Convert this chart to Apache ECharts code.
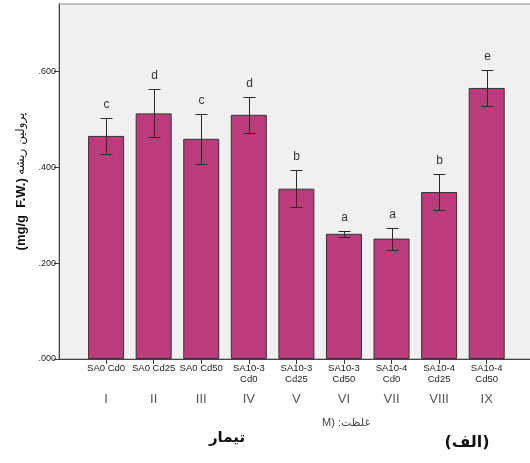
<!DOCTYPE html>
<html>
<head>
<meta charset="utf-8">
<script src="https://cdn.jsdelivr.net/npm/echarts@6/dist/echarts.min.js"></script>
<style>
  html, body { margin: 0; padding: 0; background: #ffffff; }
  #chart { width: 530px; height: 463px; }
</style>
</head>
<body>
<div id="chart"></div>
<script>
// Treatments (SA level + Cd level), group numerals and Duncan letters
const categories = ['SA0 Cd0', 'SA0 Cd25', 'SA0 Cd50', 'SA10-3\nCd0', 'SA10-3\nCd25',
                    'SA10-3\nCd50', 'SA10-4\nCd0', 'SA10-4\nCd25', 'SA10-4\nCd50'];
const romans = ['I', 'II', 'III', 'IV', 'V', 'VI', 'VII', 'VIII', 'IX'];
const letters = ['c', 'd', 'c', 'd', 'b', 'a', 'a', 'b', 'e'];
// Root proline (mg/g F.W.): means and error half-widths
const means = [0.465, 0.512, 0.459, 0.509, 0.355, 0.261, 0.251, 0.348, 0.565];
const errors = [0.038, 0.050, 0.052, 0.038, 0.038, 0.006, 0.023, 0.038, 0.038];
const yTicks = [0, 0.2, 0.4, 0.6];

const idx = categories.map((_, i) => i);
const barData = means.map((m, i) => [i, m]);
const errData = means.map((m, i) => [i, m - errors[i], m + errors[i]]);

const FONT = '"Liberation Sans", Arial, "DejaVu Sans", sans-serif';
const X_MIN = -0.99, X_MAX = 9.52;

const chart = echarts.init(document.getElementById('chart'), null, { renderer: 'canvas' });

chart.setOption({
  animation: false,
  backgroundColor: '#ffffff',
  grid: {
    left: 59, top: 4, width: 500, bottom: 104,
    outerBoundsMode: 'none', containLabel: false,
    show: true, backgroundColor: '#f0f0f0', borderColor: '#8c8c8c', borderWidth: 1
  },
  xAxis: [
    {
      type: 'value', min: X_MIN, max: X_MAX, position: 'bottom',
      splitLine: { show: false },
      axisLine: { show: true, onZero: false, lineStyle: { color: '#444', width: 1 } },
      axisTick: { show: true, customValues: idx, length: 5, lineStyle: { color: '#333' } },
      axisLabel: {
        customValues: idx, margin: 4, fontFamily: FONT, fontSize: 9.5, color: '#222',
        lineHeight: 11, formatter: v => categories[Math.round(v)]
      }
    },
    {
      type: 'value', min: X_MIN, max: X_MAX, position: 'bottom', offset: 30,
      splitLine: { show: false },
      axisLine: { show: false },
      axisTick: { show: false },
      axisLabel: {
        customValues: idx, margin: 4, fontFamily: FONT, fontSize: 13, color: '#555',
        formatter: v => romans[Math.round(v)]
      }
    }
  ],
  yAxis: {
    type: 'value', min: 0, max: 0.74, position: 'left',
    splitLine: { show: false },
    axisLine: { show: true, onZero: false, lineStyle: { color: '#444', width: 1 } },
    axisTick: { show: true, customValues: yTicks, length: 5, lineStyle: { color: '#333' } },
    axisLabel: {
      customValues: yTicks, margin: 3, fontFamily: FONT, fontSize: 9, color: '#222',
      formatter: v => '.' + v.toFixed(3).split('.')[1]
    },
    name: '{b|(mg/g  F.W.)} {n|پرولین ریشه}',
    nameLocation: 'middle', nameRotate: 90, nameGap: 30,
    nameTextStyle: {
      rich: {
        b: { fontFamily: FONT, fontSize: 13, fontWeight: 'bold', color: '#111' },
        n: { fontFamily: '"DejaVu Sans", sans-serif', fontSize: 12, color: '#111' }
      }
    }
  },
  series: [
    {
      type: 'bar', xAxisIndex: 0, data: barData, barWidth: 36,
      itemStyle: { color: '#bb3c7c', borderColor: '#333', borderWidth: 1 },
      z: 2
    },
    {
      type: 'custom', xAxisIndex: 0, data: errData, z: 3,
      encode: { x: 0, y: [1, 2] },
      renderItem: function (params, api) {
        const x = api.value(0);
        const lo = api.coord([x, api.value(1)]);
        const hi = api.coord([x, api.value(2)]);
        const cx = Math.round(lo[0]) + 0.5;
        const ly = Math.round(lo[1]) + 0.5;
        const hy = Math.round(hi[1]) + 0.5;
        const cap = 6;
        const style = { stroke: '#2a2a2a', lineWidth: 1 };
        return {
          type: 'group',
          children: [
            { type: 'line', shape: { x1: cx, y1: ly, x2: cx, y2: hy }, style: style },
            { type: 'line', shape: { x1: cx - cap, y1: hy, x2: cx + cap, y2: hy }, style: style },
            { type: 'line', shape: { x1: cx - cap, y1: ly, x2: cx + cap, y2: ly }, style: style },
            {
              type: 'text',
              style: {
                text: letters[params.dataIndex], x: cx, y: hy - 14,
                align: 'center', verticalAlign: 'middle',
                font: '12px ' + FONT, fill: '#333'
              }
            }
          ]
        };
      }
    }
  ],
  graphic: [
    {
      type: 'text', left: 322, top: 417,
      style: { text: 'M) :غلظت', font: '11px ' + FONT, fill: '#444' }
    },
    {
      type: 'text', x: 227, y: 438,
      style: { text: 'تیمار', font: 'bold 15px "DejaVu Sans", sans-serif', fill: '#111',
               align: 'center', verticalAlign: 'middle' }
    },
    {
      type: 'text', x: 467, y: 443,
      style: { text: '(الف)', font: 'bold 16px "DejaVu Sans", sans-serif', fill: '#111',
               align: 'center', verticalAlign: 'middle' }
    }
  ]
});
</script>
</body>
</html>
